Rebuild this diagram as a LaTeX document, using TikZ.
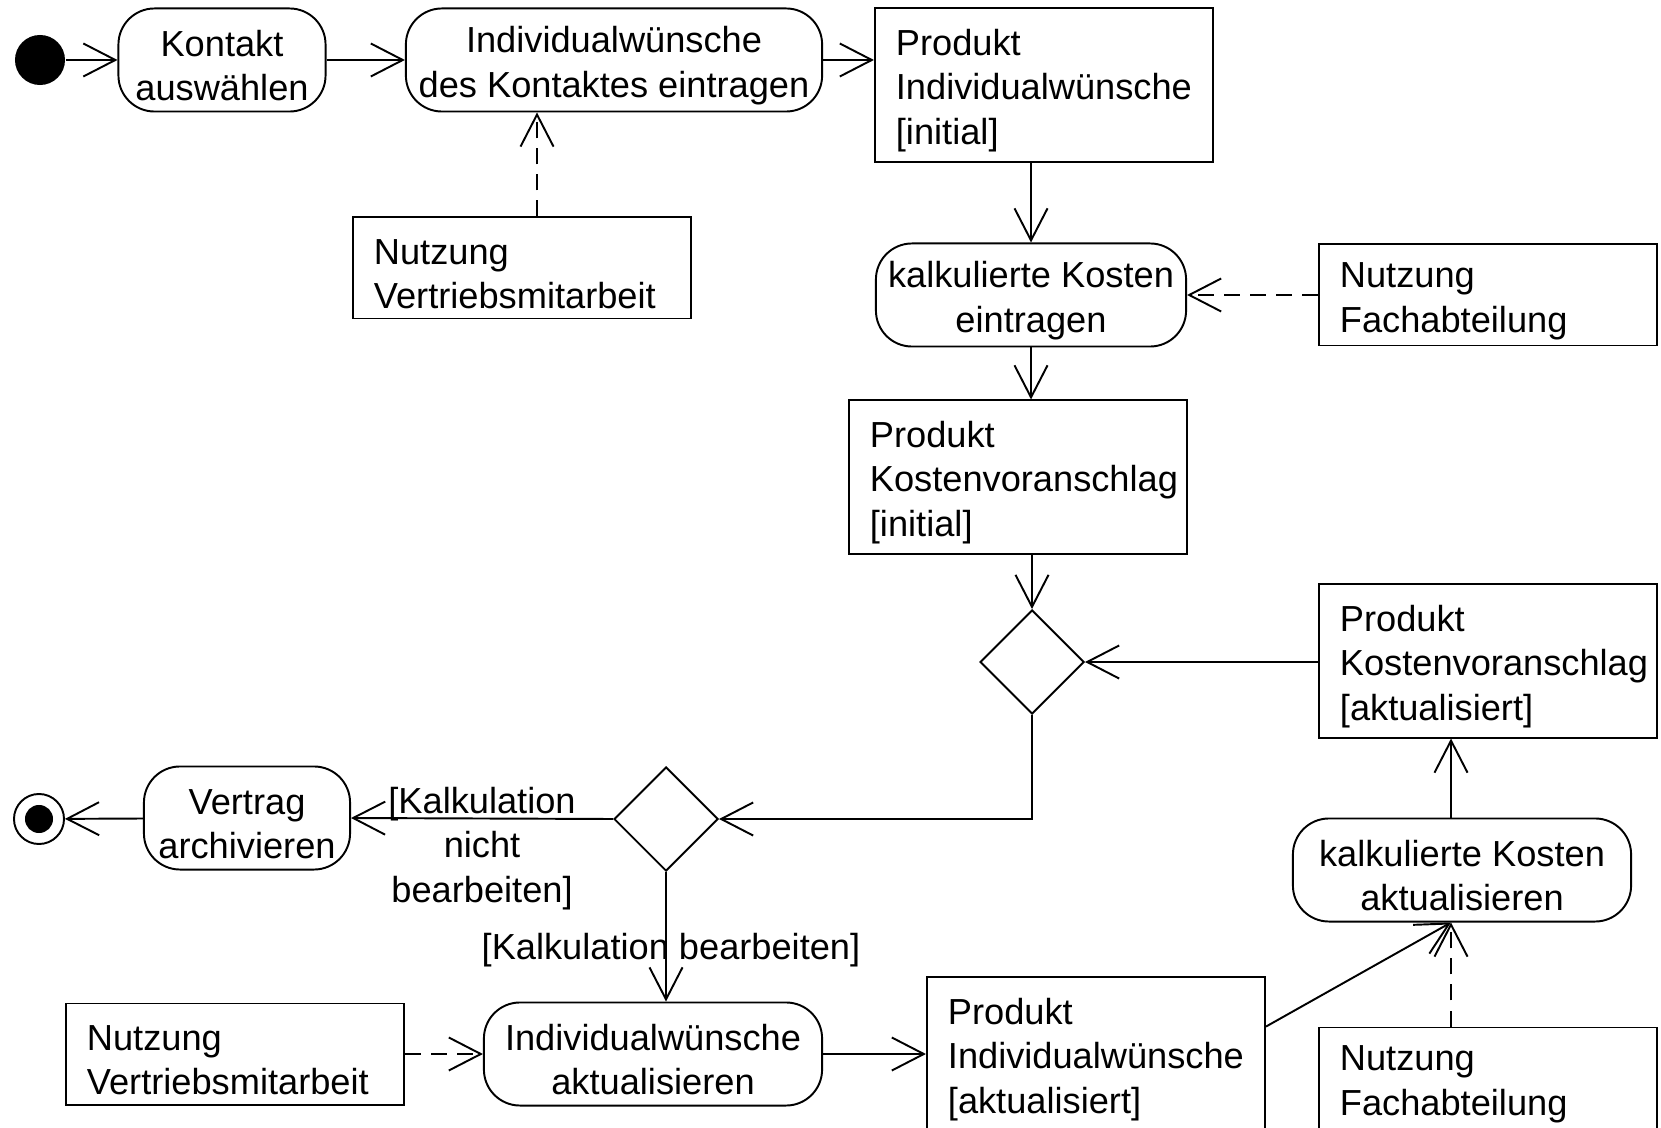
\documentclass[tikz,border=0pt]{standalone}
\usepackage{fontspec}
\setmainfont{Liberation Sans}
\usetikzlibrary{arrows.meta, shapes.geometric}

\begin{document}
\begin{tikzpicture}[x=0.01cm, y=-0.01cm, line width=0.55pt,
    font=\fontsize{10.3}{12.65}\selectfont,
    >={Straight Barb[length=3.2mm, width=3.3mm]},
    action/.style={draw, rounded corners=3.6mm, align=flush center, inner sep=0pt,
      text width=#1, text height=10.6pt, minimum height=1.03cm},
    objbox/.style={draw, align=left, text width=2.96cm, inner xsep=2.1mm,
      inner ysep=0pt, text height=10.6pt, minimum height=1.01cm},
    decision/.style={draw, diamond, inner sep=0pt, minimum width=1.04cm,
      minimum height=1.04cm},
    startdot/.style={circle, fill, minimum size=5mm, inner sep=0pt},
    finaldot/.style={circle, draw, minimum size=5mm, inner sep=0pt,
      path picture={\fill (path picture bounding box.center) circle (1.4mm);}},
    flow/.style={->},
    dep/.style={->, dash pattern=on 1.6mm off 1mm},
    guard/.style={align=center, inner sep=0pt}]
  \useasboundingbox (0,0) rectangle (1661,1128);

  % oberer Ablauf
  \node[startdot] (start) at (40,60) {};
  \node[action=2.07cm] (kontakt) at (222,60) {Kontakt\\auswählen};
  \node[action=4.16cm] (wunschE) at (614,60) {Individualwünsche\\des Kontaktes eintragen};
  \node[objbox, minimum height=1.53cm] (prodI) at (1044,85) {Produkt\\Individualwünsche\\{}[initial]};
  \node[objbox] (nutzV1) at (522,268) {Nutzung\\Vertriebsmitarbeit};
  \node[action=3.10cm] (kalkE) at (1031,295) {kalkulierte Kosten\\eintragen};
  \node[objbox] (nutzF1) at (1488,295) {Nutzung\\Fachabteilung};
  \node[objbox, minimum height=1.53cm] (prodKV) at (1018,477) {Produkt\\Kostenvoranschlag\\{}[initial]};

  % Entscheidungen
  \node[decision] (dia1) at (1032,662) {};
  \node[objbox, minimum height=1.53cm] (prodKVa) at (1488,661) {Produkt\\Kostenvoranschlag\\{}[aktualisiert]};
  \node[decision] (dia2) at (666,819) {};
  \node[action=2.06cm] (vertrag) at (247,818) {Vertrag\\archivieren};
  \node[finaldot] (final) at (39,819) {};

  % unterer Ablauf
  \node[action=3.38cm] (wunschA) at (653,1054) {Individualwünsche\\aktualisieren};
  \node[objbox] (nutzV2) at (235,1054) {Nutzung\\Vertriebsmitarbeit};
  \node[objbox, minimum height=1.53cm] (prodIa) at (1096,1054) {Produkt\\Individualwünsche\\{}[aktualisiert]};
  \node[action=3.38cm] (kalkA) at (1462,870) {kalkulierte Kosten\\aktualisieren};
  \node[objbox] (nutzF2) at (1488,1078) {Nutzung\\Fachabteilung};

  \coordinate (kaS) at ([xshift=-1.1mm]kalkA.south);
  \coordinate (kaN) at ([xshift=-1.1mm]kalkA.north);

  \draw[flow] (start) -- (kontakt);
  \draw[flow] (kontakt) -- (wunschE);
  \draw[flow] (wunschE.east) -- (wunschE.east -| prodI.west);
  \draw[dep] ([xshift=1.5mm]nutzV1.north) -- ([xshift=1.5mm]nutzV1.north |- wunschE.south);
  \draw[flow] (kalkE.north |- prodI.south) -- (kalkE.north);
  \draw[dep] (nutzF1) -- (kalkE);
  \draw[flow] (kalkE.south) -- (kalkE.south |- prodKV.north);
  \draw[flow] (dia1.north |- prodKV.south) -- (dia1.north);
  \draw[flow] (prodKVa.west |- dia1.east) -- (dia1.east);
  \draw[flow] (dia1.south) |- (dia2.east);
  \draw[flow] (dia2.west) -- node[guard, midway, yshift=-3mm] {[Kalkulation\\nicht\\bearbeiten]} (vertrag.east);
  \draw[flow] (vertrag) -- (final);
  \draw[flow] (dia2.south) -- node[guard, pos=0.6, xshift=0.5mm] {[Kalkulation bearbeiten]} (dia2.south |- wunschA.north);
  \draw[dep] (nutzV2) -- (wunschA);
  \draw[flow] (wunschA.east) -- (wunschA.east -| prodIa.west);
  \draw[flow] ([yshift=-5mm]prodIa.north east) -- (kaS);
  \draw[dep] (kaS |- nutzF2.north) -- (kaS);
  \draw[flow] (kaN) -- (kaN |- prodKVa.south);
\end{tikzpicture}
\end{document}
